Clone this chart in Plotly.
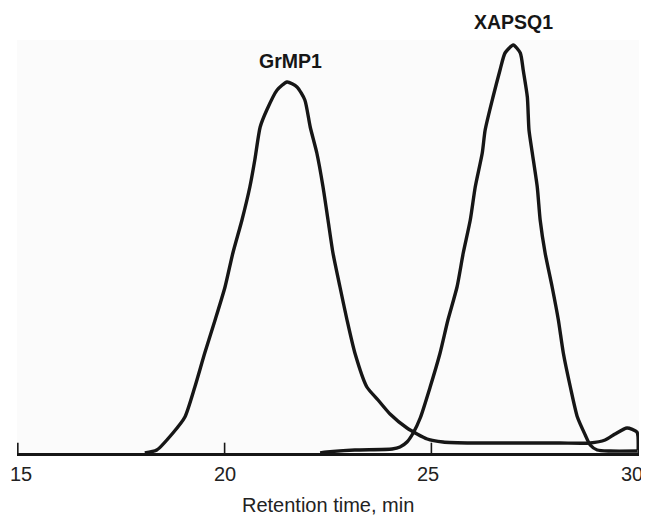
import plotly.graph_objects as go

# Retention time (min) and detector response (arbitrary units)
grmp1_time = [18.07, 18.36, 18.75, 19.04, 19.28, 19.52, 19.77, 20.01, 20.20, 20.42,
              20.61, 20.73, 20.86, 21.02, 21.27, 21.51, 21.75, 21.94, 22.07, 22.23,
              22.38, 22.50, 22.62, 22.79, 22.96, 23.15, 23.44, 23.71, 24.00, 24.41,
              24.90, 25.28, 26.01, 27.15, 28.11, 28.84, 29.20, 29.44, 29.73, 29.97, 30.00]
grmp1_signal = [0, 3, 20, 36, 66, 100, 133, 166, 200, 233,
                266, 293, 326, 343, 363, 371, 366, 353, 326, 300,
                266, 233, 200, 166, 133, 100, 66, 53, 39, 25,
                14, 11, 10, 10, 10, 10, 13, 19, 25, 21, 3]

xapsq1_time = [22.31, 22.48, 23.15, 24.05, 24.24, 24.41, 24.56, 24.73, 24.97, 25.21,
               25.40, 25.62, 25.77, 25.94, 26.06, 26.23, 26.30, 26.49, 26.66, 26.78,
               26.98, 27.15, 27.22, 27.32, 27.36, 27.44, 27.56, 27.63, 27.75, 27.92,
               28.07, 28.19, 28.36, 28.53, 28.72, 28.84, 29.01, 29.32, 29.98]
xapsq1_signal = [0, 1, 3, 4, 6, 11, 20, 35, 66, 100,
                 133, 166, 200, 233, 266, 300, 323, 356, 383, 400,
                 408, 400, 383, 356, 323, 300, 266, 233, 200, 166,
                 133, 100, 66, 36, 18, 8, 3, 2, 2]

peak_labels = ["GrMP1", "XAPSQ1"]
peak_label_pos = [(21.6, 371), (26.98, 408)]

tick_values = [15, 20, 25, 30]
tick_text = ["15", "20", "25", "30"]
x_title = "Retention time, min"

FONT = "Liberation Sans, Arial, sans-serif"
INK = "#161616"

fig = go.Figure()
for t, s in [(grmp1_time, grmp1_signal), (xapsq1_time, xapsq1_signal)]:
    fig.add_trace(go.Scatter(x=t, y=s, mode="lines",
                             line=dict(color=INK, width=3.4, shape="spline", smoothing=0.6),
                             cliponaxis=False, showlegend=False, hoverinfo="skip"))

for text, (px, py), shift in zip(peak_labels, peak_label_pos, [21, 23]):
    fig.add_annotation(x=px, y=py, text="<b>" + text + "</b>", showarrow=False,
                       yshift=shift, yanchor="middle",
                       font=dict(family=FONT, size=19.5, color=INK))

# inward tick marks and their labels (labels nudged like the original artwork)
for v, txt, dx in zip(tick_values, tick_text, [3, 0, -3, -6]):
    fig.add_shape(type="line", xref="x", yref="paper", x0=v, x1=v, y0=0, y1=0.025,
                  line=dict(color=INK, width=1.6))
    fig.add_annotation(x=v, y=0, yref="paper", text=txt, showarrow=False,
                       xshift=dx, yshift=-21, yanchor="middle",
                       font=dict(family=FONT, size=20, color="#222"))

fig.add_annotation(x=0.5, xref="paper", y=0, yref="paper", yshift=-52,
                   yanchor="middle", text=x_title, showarrow=False,
                   font=dict(family=FONT, size=20, color="#222"))

fig.update_xaxes(range=[14.98, 30.02], showticklabels=False, ticks="",
                 showline=True, linecolor=INK, linewidth=2.5,
                 showgrid=False, zeroline=False)
fig.update_yaxes(range=[0, 413], visible=False, showgrid=False, zeroline=False)

# page body has an 8px default margin, so the figure is sized to fit the window
fig.update_layout(width=641, height=507,
                  margin=dict(l=9, r=10, t=32, b=62),
                  paper_bgcolor="white", plot_bgcolor="#fbfbfb")

fig.write_html("out.html")
